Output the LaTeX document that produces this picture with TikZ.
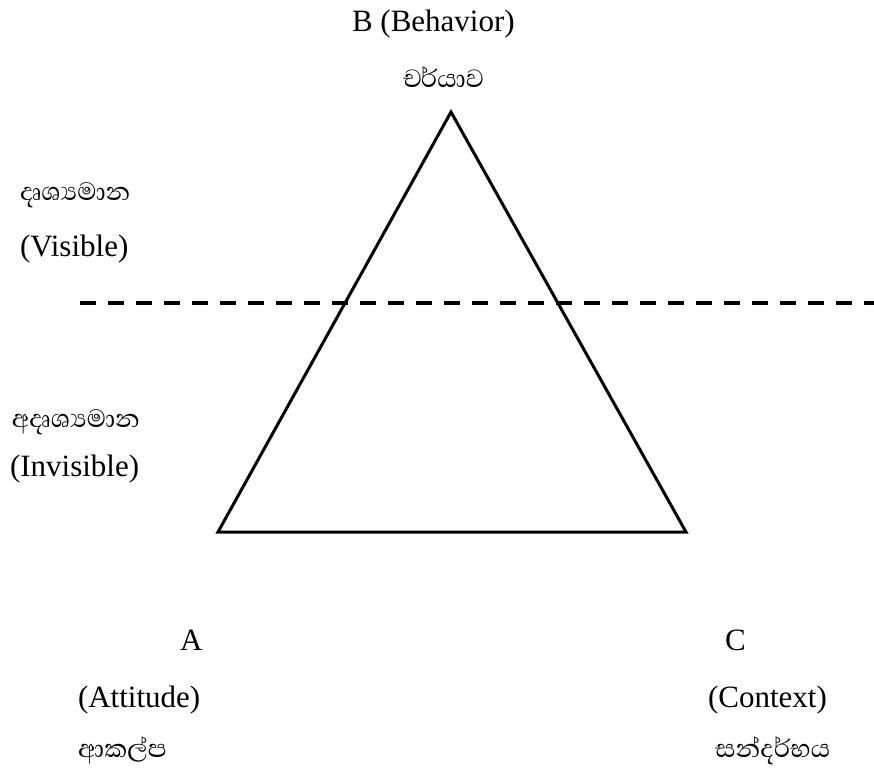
\documentclass[tikz,border=0pt]{standalone}
\usepackage{fontspec}
\setmainfont{Liberation Serif}
\newfontfamily\sinhfont[Script=Sinhala]{Abhaya Libre}
\begin{document}
\begin{tikzpicture}[x=1pt,y=-1pt,
  lbl/.style={anchor=base west,inner sep=0pt,outer sep=0pt,font=\fontsize{31}{36}\selectfont},
  slbl/.style={anchor=base west,inner sep=0pt,outer sep=0pt,font=\sinhfont\fontsize{32}{36}\selectfont},
  tri/.style={line width=3pt,line join=miter},
  divider/.style={line width=4pt,dash pattern=on 16pt off 12pt}]
\useasboundingbox (0,0) rectangle (874,771);
% triangle corners
\coordinate (B) at (451,112);
\coordinate (A) at (218,532);
\coordinate (C) at (686,532);
\draw[tri] (A) -- (B) -- (C) -- cycle;
% dashed divider
\coordinate (dl) at (80,303);
\coordinate (dr) at (874,303);
\draw[divider] (dl) -- (dr);
% labels
\node[lbl] (btitle) at (352,31) {B (Behavior)};
\node[slbl] (bsin) at (403,87) {චර්යාව};
\node[slbl] (vsin) at (20,200) {දෘශ්‍යමාන};
\node[lbl] (vis) at (20,256) {(Visible)};
\node[slbl] (isin) at (12,427) {අදෘශ්‍යමාන};
\node[lbl] (invis) at (10,476) {(Invisible)};
\node[lbl] (alet) at (180,650) {A};
\node[lbl] (aeng) at (78,707) {(Attitude)};
\node[slbl] (asin) at (78,757) {ආකල්ප};
\node[lbl] (clet) at (725,650) {C};
\node[lbl] (ceng) at (708,707) {(Context)};
\node[slbl] (csin) at (715,757) {සන්දර්භය};
\end{tikzpicture}
\end{document}
